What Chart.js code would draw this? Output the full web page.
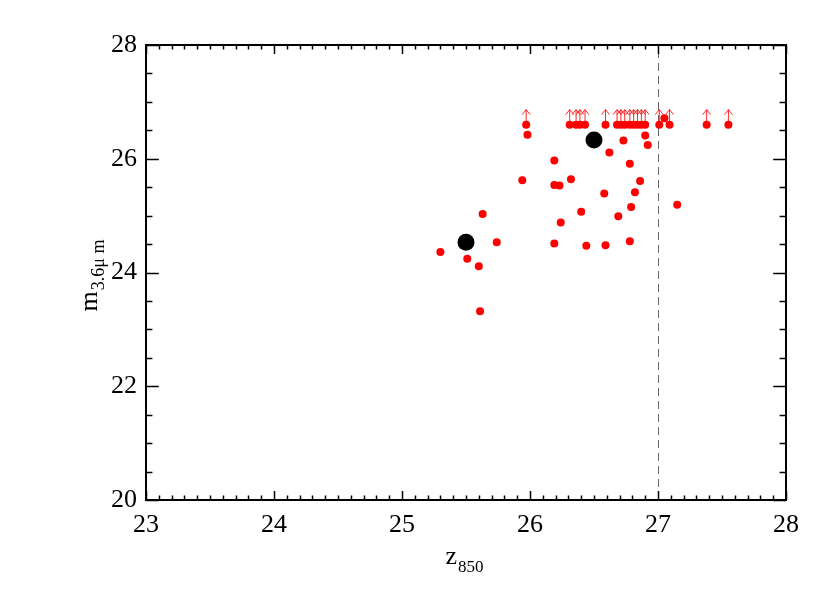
<!DOCTYPE html>
<html lang="en">
<head>
    <meta charset="UTF-8">
    <title>z850 vs m3.6um</title>
    <script src="https://cdn.jsdelivr.net/npm/chart.js"></script>
    <style>
        body { margin: 0; background: #fff; }
    </style>
</head>
<body>
    <canvas id="zmChart" width="830" height="593"></canvas>

    <script>
        // detected sources (z850, m3.6um)
        const detX = [27.05, 25.98, 26.73, 26.90, 26.92, 26.62, 26.19, 26.78, 25.94, 26.19,
                      26.23, 26.32, 26.86, 26.58, 26.82, 26.79, 27.15, 26.40, 26.69, 26.24,
                      25.63, 25.74, 26.19, 26.44, 26.59, 26.78, 25.30, 25.51, 25.60, 25.61];
        const detY = [26.71, 26.42, 26.32, 26.41, 26.24, 26.11, 25.97, 25.91, 25.62, 25.54,
                      25.53, 25.64, 25.61, 25.39, 25.41, 25.15, 25.19, 25.07, 24.99, 24.88,
                      25.03, 24.53, 24.51, 24.47, 24.48, 24.55, 24.36, 24.24, 24.11, 23.32];

        // upper limits in 3.6um (drawn with arrows)
        const limX = [25.97, 26.31, 26.36, 26.39, 26.43, 26.59, 26.68, 26.71, 26.74, 26.78,
                      26.81, 26.84, 26.87, 26.90, 27.01, 27.09, 27.38, 27.55];
        const limY = [26.6, 26.6, 26.6, 26.6, 26.6, 26.6, 26.6, 26.6, 26.6, 26.6,
                      26.6, 26.6, 26.6, 26.6, 26.6, 26.6, 26.6, 26.6];

        // stacked values (big black points)
        const stackX = [25.5, 26.5];
        const stackY = [24.53, 26.33];

        // axis ticks
        const xTicks = [23, 24, 25, 26, 27, 28];
        const yTicks = [20, 22, 24, 26, 28];
        const zCut = 27;

        const serif = "'Liberation Serif', 'DejaVu Serif', serif";

        function toPoints(xs, ys) {
            return xs.map((v, i) => ({ x: v, y: ys[i] }));
        }

        // frame, inside ticks on all sides, dashed cut, arrows, axis titles
        const idlStyle = {
            id: 'idlStyle',
            beforeDatasetsDraw(chart) {
                const { ctx, chartArea: a, scales: { x } } = chart;
                const px = Math.round(x.getPixelForValue(zCut)) + 0.5;
                ctx.save();
                ctx.strokeStyle = '#666';
                ctx.lineWidth = 1;
                ctx.setLineDash([8, 5]);
                ctx.beginPath();
                ctx.moveTo(px, a.bottom);
                ctx.lineTo(px, a.top);
                ctx.stroke();
                ctx.restore();
            },
            afterDatasetsDraw(chart) {
                const { ctx } = chart;
                const meta = chart.getDatasetMeta(1);
                ctx.save();
                ctx.strokeStyle = 'rgba(255,0,0,0.85)';
                ctx.lineWidth = 1;
                meta.data.forEach(pt => {
                    const top = pt.y - 15;
                    ctx.beginPath();
                    ctx.moveTo(pt.x, pt.y);
                    ctx.lineTo(pt.x, top);
                    ctx.moveTo(pt.x - 4, top + 5);
                    ctx.lineTo(pt.x, top);
                    ctx.lineTo(pt.x + 4, top + 5);
                    ctx.stroke();
                });
                ctx.restore();
            },
            afterDraw(chart) {
                const { ctx, chartArea: a, scales: { x, y } } = chart;
                ctx.save();
                ctx.strokeStyle = '#000';

                // ticks
                ctx.lineWidth = 1.5;
                ctx.beginPath();
                for (let i = 0; i <= 50; i++) {
                    const v = 23 + i * 0.1;
                    const px = Math.round(x.getPixelForValue(v)) + 0.5;
                    const len = i % 10 === 0 ? 9 : 4.5;
                    ctx.moveTo(px, a.bottom); ctx.lineTo(px, a.bottom - len);
                    ctx.moveTo(px, a.top); ctx.lineTo(px, a.top + len);
                }
                for (let i = 0; i <= 16; i++) {
                    const v = 20 + i * 0.5;
                    const py = Math.round(y.getPixelForValue(v)) + 0.5;
                    const len = i % 4 === 0 ? 12.8 : 6.4;
                    ctx.moveTo(a.left, py); ctx.lineTo(a.left + len, py);
                    ctx.moveTo(a.right, py); ctx.lineTo(a.right - len, py);
                }
                ctx.stroke();

                // frame
                ctx.lineWidth = 2;
                ctx.strokeRect(a.left, a.top, a.right - a.left, a.bottom - a.top);

                // x title: z_850
                ctx.fillStyle = '#000';
                ctx.textBaseline = 'alphabetic';
                ctx.textAlign = 'left';
                ctx.font = '26px ' + serif;
                const wz = ctx.measureText('z').width;
                ctx.font = '17px ' + serif;
                const w850 = ctx.measureText('850').width;
                let sx = (a.left + a.right) / 2 - (wz + w850) / 2 - 2;
                ctx.font = '26px ' + serif;
                ctx.fillText('z', sx, 564);
                ctx.font = '17px ' + serif;
                ctx.fillText('850', sx + wz + 1, 572);

                // y title: m_3.6μ m
                ctx.translate(97, 0);
                ctx.rotate(-Math.PI / 2);
                ctx.font = '26px ' + serif;
                const wm = ctx.measureText('m').width;
                ctx.font = '18px ' + serif;
                const sub = '3.6\u03bc m';
                const wsub = ctx.measureText(sub).width;
                const cy = 276;
                const start = -cy - (wm + wsub) / 2;
                ctx.font = '26px ' + serif;
                ctx.fillText('m', start, 0);
                ctx.font = '18px ' + serif;
                ctx.fillText(sub, start + wm + 1, 7);
                ctx.restore();
            }
        };

        new Chart(document.getElementById('zmChart'), {
            type: 'scatter',
            data: {
                datasets: [
                    {
                        label: 'stack',
                        data: toPoints(stackX, stackY),
                        backgroundColor: '#000',
                        borderWidth: 0,
                        pointRadius: 8.5,
                        order: 0
                    },
                    {
                        label: 'upper limits',
                        data: toPoints(limX, limY),
                        backgroundColor: '#ff0000',
                        borderWidth: 0,
                        pointRadius: 4,
                        order: 1
                    },
                    {
                        label: 'detections',
                        data: toPoints(detX, detY),
                        backgroundColor: '#ff0000',
                        borderWidth: 0,
                        pointRadius: 4,
                        order: 2
                    }
                ]
            },
            options: {
                responsive: false,
                animation: false,
                layout: { padding: { top: 45, right: 44, left: 0, bottom: 0 } },
                plugins: {
                    legend: { display: false },
                    tooltip: { enabled: false }
                },
                scales: {
                    x: {
                        type: 'linear',
                        min: 23,
                        max: 28,
                        afterFit: s => { s.height = 93; },
                        afterBuildTicks: s => { s.ticks = xTicks.map(v => ({ value: v })); },
                        grid: { display: false, drawTicks: false },
                        border: { display: false },
                        ticks: {
                            padding: 10,
                            color: '#000',
                            font: { family: serif, size: 26 }
                        }
                    },
                    y: {
                        type: 'linear',
                        min: 20,
                        max: 28,
                        afterFit: s => { s.width = 146; },
                        afterBuildTicks: s => { s.ticks = yTicks.map(v => ({ value: v })); },
                        grid: { display: false, drawTicks: false },
                        border: { display: false },
                        ticks: {
                            padding: 9,
                            color: '#000',
                            font: { family: serif, size: 26 }
                        }
                    }
                }
            },
            plugins: [idlStyle]
        });
    </script>
</body>
</html>
